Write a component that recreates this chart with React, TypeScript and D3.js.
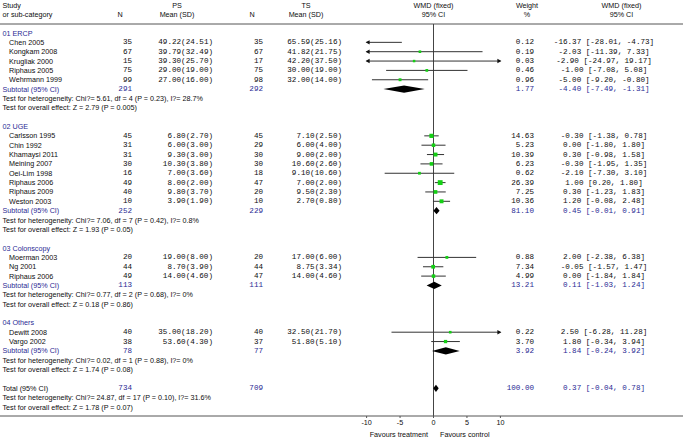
import React from "react";
import * as d3 from "d3";

const groupNames = ["01 ERCP", "02 UGE", "03 Colonscopy", "04 Others"];
const studyNames = [
  "Chen 2005", "Kongkam 2008", "Krugliak 2000", "Riphaus 2005", "Wehrmann 1999",
  "Carlsson 1995", "Chin 1992", "Khamaysi 2011", "Meining 2007", "Oei-Lim 1998", "Riphaus 2006", "Riphaus 2009", "Weston 2003",
  "Moerman 2003", "Ng 2001", "Riphaus 2006",
  "Dewitt 2008", "Vargo 2002",
];
const studyGroup = [0, 0, 0, 0, 0, 1, 1, 1, 1, 1, 1, 1, 1, 2, 2, 2, 3, 3];
const psN = [35, 67, 15, 75, 99, 45, 31, 31, 30, 16, 49, 40, 10, 20, 44, 49, 40, 38];
const psMean = [49.22, 39.79, 39.3, 29.0, 27.0, 6.8, 6.0, 9.3, 10.3, 7.0, 8.0, 9.8, 3.9, 19.0, 8.7, 14.0, 35.0, 53.6];
const psSD = [24.51, 32.49, 25.7, 19.0, 16.0, 2.7, 3.0, 3.0, 3.8, 3.6, 2.0, 3.7, 1.9, 8.0, 3.9, 4.6, 18.2, 4.3];
const tsN = [35, 67, 17, 75, 98, 45, 29, 30, 30, 18, 47, 20, 10, 20, 44, 47, 40, 37];
const tsMean = [65.59, 41.82, 42.2, 30.0, 32.0, 7.1, 6.0, 9.0, 10.6, 9.1, 7.0, 9.5, 2.7, 17.0, 8.75, 14.0, 32.5, 51.8];
const tsSD = [25.16, 21.75, 37.5, 19.0, 14.0, 2.5, 4.0, 2.0, 2.6, 10.6, 2.0, 2.3, 0.8, 6.0, 3.34, 4.6, 21.7, 5.1];
const weights = [0.12, 0.19, 0.03, 0.46, 0.96, 14.63, 5.23, 10.39, 6.23, 0.62, 26.39, 7.25, 10.36, 0.88, 7.34, 4.99, 0.22, 3.7];
const est = [-16.37, -2.03, -2.9, -1.0, -5.0, -0.3, 0.0, 0.3, -0.3, -2.1, 1.0, 0.3, 1.2, 2.0, -0.05, 0.0, 2.5, 1.8];
const lo = [-28.01, -11.39, -24.97, -7.08, -9.2, -1.38, -1.8, -0.98, -1.95, -7.3, 0.2, -1.23, -0.08, -2.38, -1.57, -1.84, -6.28, -0.34];
const hi = [-4.73, 7.33, 19.17, 5.08, -0.8, 0.78, 1.8, 1.58, 1.35, 3.1, 1.8, 1.83, 2.48, 6.38, 1.47, 1.84, 11.28, 3.94];

const subPsN = [291, 252, 113, 78];
const subTsN = [292, 229, 111, 77];
const subWeight = [1.77, 81.1, 13.21, 3.92];
const subEst = [-4.4, 0.45, 0.11, 1.84];
const subLo = [-7.49, -0.01, -1.03, -0.24];
const subHi = [-1.31, 0.91, 1.24, 3.92];
const subHet = [
  "Chi?= 5.61, df = 4 (P = 0.23), I?= 28.7%",
  "Chi?= 7.06, df = 7 (P = 0.42), I?= 0.8%",
  "Chi?= 0.77, df = 2 (P = 0.68), I?= 0%",
  "Chi?= 0.02, df = 1 (P = 0.88), I?= 0%",
];
const subZ = ["Z = 2.79 (P = 0.005)", "Z = 1.93 (P = 0.05)", "Z = 0.18 (P = 0.86)", "Z = 1.74 (P = 0.08)"];

const totalPsN = 734;
const totalTsN = 709;
const totalWeight = 100.0;
const totalEst = 0.37;
const totalLo = -0.04;
const totalHi = 0.78;
const totalHet = "Chi?= 24.87, df = 17 (P = 0.10), I?= 31.6%";
const totalZ = "Z = 1.78 (P = 0.07)";

const xTicks = [-10, -5, 0, 5, 10];

const SANS = "'Liberation Sans', Arial, sans-serif";
const MONO = "'Liberation Mono', 'Courier New', monospace";
const BLUE = "#2a2a94";
const TXT = "#0d0d0d";
const GREEN = "#14d014";

const f2 = (v: number) => v.toFixed(2);

export default function App() {
  const x = d3.scaleLinear().domain([-10, 10]).range([366.6, 500.4]);
  const y = d3.scaleLinear().domain([0, 40]).range([33, 407]);
  const sz = d3.scaleSqrt().domain([0, 30]).range([2.4, 5.0]);

  const sansFs = 7.2;
  const monoFs = 7.6;

  const els: React.ReactNode[] = [];
  let r = 0;
  let key = 0;
  const k = () => key++;

  const ciLine = (e: number, l: number, h: number, yy: number, w: number | null) => {
    const x0 = x(Math.max(l, -10));
    const x1 = x(Math.min(h, 10));
    els.push(<line key={k()} x1={x0} x2={x1} y1={yy} y2={yy} stroke="#333" strokeWidth={1} />);
    if (l < -10) {
      els.push(<path key={k()} d={`M${x0 - 1},${yy} L${x0 + 3},${yy - 2.2} L${x0 + 3},${yy + 2.2} Z`} fill="#111" />);
    }
    if (h > 10) {
      els.push(<path key={k()} d={`M${x1 + 1},${yy} L${x1 - 3},${yy - 2.2} L${x1 - 3},${yy + 2.2} Z`} fill="#111" />);
    }
    if (w !== null && e >= -10 && e <= 10) {
      const s = sz(w);
      els.push(<rect key={k()} x={x(e) - s / 2} y={yy - s / 2} width={s} height={s} fill={GREEN} />);
    }
  };

  const diamond = (e: number, l: number, h: number, yy: number) => {
    const hh = 3.6;
    els.push(
      <path key={k()} d={`M${x(l)},${yy} L${x(e)},${yy - hh} L${x(h)},${yy} L${x(e)},${yy + hh} Z`} fill="#000" />
    );
  };

  const ciText = (e: number, l: number, h: number, yy: number, color: string) => {
    els.push(
      <text key={k()} x={604} y={yy} textAnchor="middle" fontFamily={MONO} fontSize={monoFs} fill={color} dominantBaseline="central" style={{ whiteSpace: "pre" }}>{`${f2(e)} [${f2(l)}, ${f2(h)}]`}</text>
    );
  };

  const sansText = (t: string, xx: number, yy: number, color = TXT, anchor = "start") => {
    els.push(
      <text key={k()} x={xx} y={yy} textAnchor={anchor} fontFamily={SANS} fontSize={sansFs} fill={color} dominantBaseline="central">{t}</text>
    );
  };
  const monoText = (t: string, xx: number, yy: number, color = TXT) => {
    els.push(
      <text key={k()} x={xx} y={yy} textAnchor="end" fontFamily={MONO} fontSize={monoFs} fill={color} dominantBaseline="central">{t}</text>
    );
  };

  groupNames.forEach((g, gi) => {
    sansText(g, 2.5, y(r), BLUE);
    r++;
    studyNames.forEach((s, i) => {
      if (studyGroup[i] !== gi) return;
      const yy = y(r);
      sansText(s, 9, yy);
      monoText(String(psN[i]), 132, yy);
      monoText(`${f2(psMean[i])}(${f2(psSD[i])})`, 213, yy);
      monoText(String(tsN[i]), 263, yy);
      monoText(`${f2(tsMean[i])}(${f2(tsSD[i])})`, 342, yy);
      monoText(f2(weights[i]), 534, yy);
      ciText(est[i], lo[i], hi[i], yy, TXT);
      ciLine(est[i], lo[i], hi[i], yy, weights[i]);
      r++;
    });
    const ys = y(r);
    sansText("Subtotal (95% CI)", 2.5, ys, BLUE);
    monoText(String(subPsN[gi]), 132, ys, BLUE);
    monoText(String(subTsN[gi]), 263, ys, BLUE);
    monoText(f2(subWeight[gi]), 534, ys, BLUE);
    ciText(subEst[gi], subLo[gi], subHi[gi], ys, BLUE);
    diamond(subEst[gi], subLo[gi], subHi[gi], ys);
    r++;
    sansText(`Test for heterogeneity: ${subHet[gi]}`, 2.5, y(r));
    r++;
    sansText(`Test for overall effect: ${subZ[gi]}`, 2.5, y(r));
    r += 2;
  });

  const yt = y(r);
  sansText("Total (95% CI)", 2.5, yt);
  monoText(String(totalPsN), 132, yt, BLUE);
  monoText(String(totalTsN), 263, yt, BLUE);
  monoText(f2(totalWeight), 534, yt, BLUE);
  ciText(totalEst, totalLo, totalHi, yt, BLUE);
  diamond(totalEst, totalLo, totalHi, yt);
  r++;
  sansText(`Test for heterogeneity: ${totalHet}`, 2.5, y(r));
  r++;
  sansText(`Test for overall effect: ${totalZ}`, 2.5, y(r));

  const axisY = 416;
  const hdr = (t: string, xx: number, yy: number, anchor = "middle") => (
    <text x={xx} y={yy} textAnchor={anchor} fontFamily={SANS} fontSize={sansFs} fill={TXT} dominantBaseline="central">{t}</text>
  );

  return (
    <svg width={686} height={440} style={{ position: "absolute", left: 0, top: 0, background: "#fff" }}>
      <rect x={0} y={0} width={686} height={440} fill="#fff" />
      {hdr("Study", 2.5, 5.5, "start")}
      {hdr("or sub-category", 2.5, 14.8, "start")}
      {hdr("N", 120, 14.8)}
      {hdr("PS", 177, 5.5)}
      {hdr("Mean (SD)", 177, 14.8)}
      {hdr("N", 252, 14.8)}
      {hdr("TS", 306, 5.5)}
      {hdr("Mean (SD)", 306, 14.8)}
      {hdr("WMD (fixed)", 433.5, 5.5)}
      {hdr("95% CI", 433.5, 14.8)}
      {hdr("Weight", 527, 5.5)}
      {hdr("%", 527, 14.8)}
      {hdr("WMD (fixed)", 621.5, 5.5)}
      {hdr("95% CI", 621.5, 14.8)}
      <line x1={0} x2={683} y1={24} y2={24} stroke="#555" strokeWidth={1} />
      <line x1={x(0)} x2={x(0)} y1={24} y2={axisY} stroke="#444" strokeWidth={1} />
      {els}
      <line x1={0} x2={683} y1={axisY} y2={axisY} stroke="#555" strokeWidth={1} />
      {xTicks.map((t) => (
        <g key={t}>
          <line x1={x(t)} x2={x(t)} y1={axisY} y2={axisY + 2} stroke="#555" />
          <text x={x(t)} y={422.5} textAnchor="middle" fontFamily={SANS} fontSize={sansFs} fill={TXT} dominantBaseline="central">{t}</text>
        </g>
      ))}
      <text x={428} y={434.5} textAnchor="end" fontFamily={SANS} fontSize={sansFs} fill={TXT} dominantBaseline="central">Favours treatment</text>
      <text x={440} y={434.5} textAnchor="start" fontFamily={SANS} fontSize={sansFs} fill={TXT} dominantBaseline="central">Favours control</text>
    </svg>
  );
}
